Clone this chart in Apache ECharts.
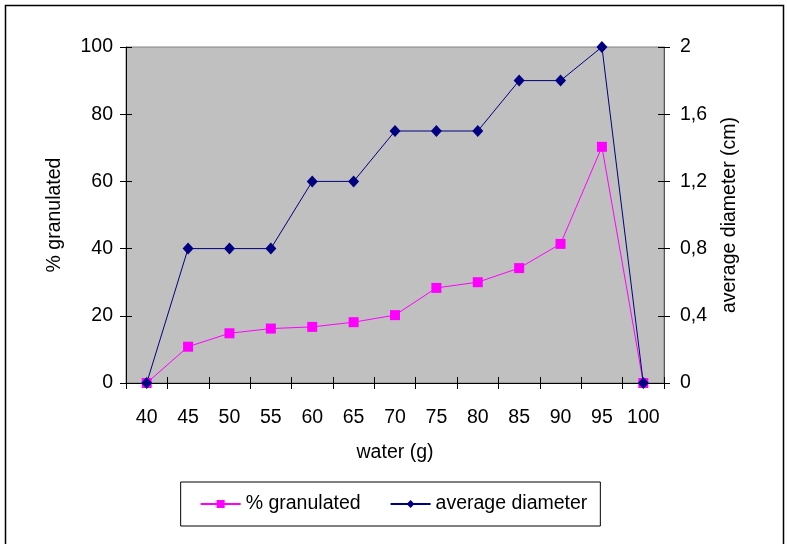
<!DOCTYPE html>
<html><head><meta charset="utf-8">
<script src="https://cdn.jsdelivr.net/npm/echarts@6/dist/echarts.min.js"></script>
<style>html,body{margin:0;padding:0;background:#fff}#c{width:787px;height:544px}</style>
</head><body><div id="c"></div>
<script>
const categories = ['40','45','50','55','60','65','70','75','80','85','90','95','100'];
const granulated = [0, 10.8, 14.8, 16.2, 16.7, 18.1, 20.2, 28.3, 30, 34.2, 41.4, 70.3, 0];
const diameter = [0, 0.8, 0.8, 0.8, 1.2, 1.2, 1.5, 1.5, 1.5, 1.8, 1.8, 2, 0];

const font = 'Liberation Sans';
const fs = 19.5;
const chart = echarts.init(document.getElementById('c'));
const grid = {left:126, right:123, top:47, bottom:161, show:true, backgroundColor:'#C0C0C0', borderColor:'#808080', borderWidth:1};
chart.setOption({
  animation:false,
  textStyle:{fontFamily:font},
  grid: grid,
  graphic:[{type:'rect', shape:{x:5.5,y:5.5,width:778,height:560}, style:{fill:'none', stroke:'#000', lineWidth:1.5}, silent:true}],
  legend:{
    bottom:18, left:'center', itemWidth:40, itemHeight:10, itemGap:29,
    borderColor:'#000', borderWidth:1, padding:[12,13,12,19],
    textStyle:{fontFamily:font, fontSize:fs, color:'#000'},
    data:['% granulated','average diameter']
  },
  xAxis:[{
    type:'category', data:categories, boundaryGap:true,
    name:'water (g)', nameLocation:'middle', nameGap:60,
    nameTextStyle:{fontSize:fs, color:'#000', fontFamily:font},
    axisLine:{lineStyle:{color:'#000', width:1}},
    axisTick:{show:true, interval:0, length:6, lineStyle:{color:'#000'}},
    axisLabel:{interval:0, hideOverlap:false, fontSize:fs, color:'#000', margin:25, fontFamily:font},
    splitLine:{show:false}
  },{
    type:'category', data:categories, boundaryGap:true, position:'bottom',
    axisLine:{show:false}, axisTick:{show:true, interval:0, inside:true, length:6, lineStyle:{color:'#000'}},
    axisLabel:{show:false, interval:0}, splitLine:{show:false}
  }],
  yAxis:[{
    type:'value', min:0, max:100, interval:20, position:'left',
    name:'% granulated', nameLocation:'middle', nameGap:61, nameRotate:90,
    nameTextStyle:{fontSize:fs, color:'#000', fontFamily:font},
    axisLine:{show:true, lineStyle:{color:'#000'}},
    axisTick:{show:true, length:6, lineStyle:{color:'#000'}},
    axisLabel:{fontSize:fs, color:'#000', margin:13, fontFamily:font},
    splitLine:{show:false}
  },{
    type:'value', min:0, max:2, interval:0.4, position:'right',
    name:'average diameter (cm)', nameLocation:'middle', nameGap:56, nameRotate:90,
    nameTextStyle:{fontSize:fs, color:'#000', fontFamily:font},
    axisLine:{show:true, lineStyle:{color:'#555'}},
    axisTick:{show:true, length:6, lineStyle:{color:'#000'}},
    axisLabel:{fontSize:fs, color:'#000', margin:16, fontFamily:font,
      formatter:v => String(Number(v.toFixed(1))).replace('.', ',')},
    splitLine:{show:false}
  },{
    type:'value', min:0, max:100, interval:20, position:'left',
    axisLine:{show:false}, axisTick:{show:true, inside:true, length:6, lineStyle:{color:'#000'}},
    axisLabel:{show:false}, splitLine:{show:false}
  },{
    type:'value', min:0, max:2, interval:0.4, position:'right',
    axisLine:{show:false}, axisTick:{show:true, inside:true, length:6, lineStyle:{color:'#000'}},
    axisLabel:{show:false}, splitLine:{show:false}
  }],
  series:[{
    name:'% granulated', type:'line', data:granulated, yAxisIndex:0,
    symbol:'rect', symbolSize:10, showAllSymbol:true,
    itemStyle:{color:'#FF00FF'}, lineStyle:{color:'#FF00FF', width:1}
  },{
    name:'average diameter', type:'line', data:diameter, yAxisIndex:1,
    symbol:'diamond', symbolSize:[11,12], showAllSymbol:true,
    itemStyle:{color:'#000080'}, lineStyle:{color:'#000080', width:1}
  }]
});
</script></body></html>
